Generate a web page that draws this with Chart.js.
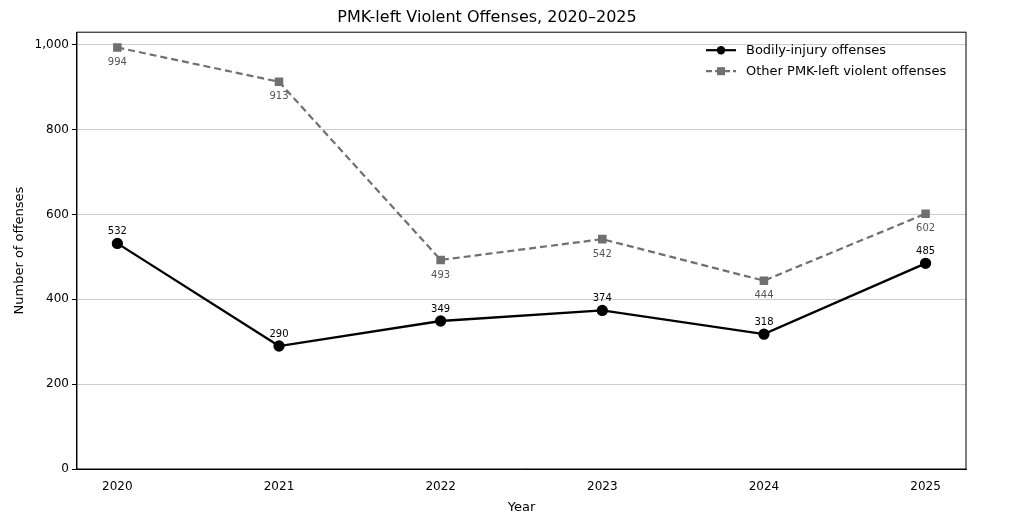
<!DOCTYPE html>
<html><head><meta charset="utf-8">
<script src="https://cdn.jsdelivr.net/npm/chart.js@4"></script>
<style>body{margin:0;background:#fff}#w{width:1020px;height:523px}</style>
</head><body><div id="w"><canvas id="c"></canvas></div>
<script>
const years=[2020,2021,2022,2023,2024,2025];
const bodily=[532,290,349,374,318,485];
const other=[994,913,493,542,444,602];
const yTicks=[0,200,400,600,800,1000];
const F='"DejaVu Sans", sans-serif';
const labels={id:'lab',afterDatasetsDraw(ch){
  const ctx=ch.ctx;ctx.save();ctx.font='10px '+F;ctx.textAlign='center';
  ch.data.datasets.forEach((ds,i)=>{const m=ch.getDatasetMeta(i);
    m.data.forEach((p,j)=>{ctx.fillStyle=i?'#555':'#000';
      if(i){ctx.textBaseline='top';ctx.fillText(ds.data[j].y,p.x,p.y+10);}
      else{ctx.textBaseline='bottom';ctx.fillText(ds.data[j].y,p.x,p.y-7);}});});
  // legend
  const a=ch.chartArea;let x=a.right-260,y=a.top+18;
  ctx.font='13px '+F;ctx.textAlign='left';ctx.textBaseline='middle';
  [['Bodily-injury offenses','#000',[],'circle'],['Other PMK-left violent offenses','#707070',[6,3],'rect']].forEach((L,k)=>{
    const yy=y+k*21;ctx.strokeStyle=L[1];ctx.lineWidth=2.2;ctx.setLineDash(L[2]);
    ctx.beginPath();ctx.moveTo(x,yy);ctx.lineTo(x+30,yy);ctx.stroke();ctx.setLineDash([]);
    ctx.fillStyle=L[1];if(L[3]=='circle'){ctx.beginPath();ctx.arc(x+15,yy,4.2,0,7);ctx.fill();}else ctx.fillRect(x+11,yy-4,8,8);
    ctx.fillStyle='#000';ctx.fillText(L[0],x+40,yy);});
  ctx.restore();}};
new Chart(document.getElementById('c'),{type:'line',
 data:{datasets:[
  {data:years.map((y,i)=>({x:y,y:bodily[i]})),borderColor:'#000',backgroundColor:'#000',borderWidth:2.3,pointRadius:4.5,pointStyle:'circle'},
  {data:years.map((y,i)=>({x:y,y:other[i]})),borderColor:'#707070',backgroundColor:'#707070',borderWidth:2.2,borderDash:[7,4],pointRadius:4.5,pointStyle:'rect'}]},
 options:{responsive:true,maintainAspectRatio:false,animation:false,
  layout:{padding:{left:8,right:54,top:0,bottom:4}},
  plugins:{legend:{display:false},tooltip:{enabled:false},
   title:{display:true,text:'PMK-left Violent Offenses, 2020–2025',color:'#000',font:{family:F,size:16,weight:'normal'},padding:{top:8,bottom:5}}},
  scales:{
   x:{type:'linear',min:2019.75,max:2025.25,afterBuildTicks(s){s.ticks=years.map(v=>({value:v}));},
    ticks:{color:'#000',font:{family:F,size:12},callback:v=>String(v)},
    grid:{display:false},border:{color:'#000',display:true},
    title:{display:true,text:'Year',color:'#000',font:{family:F,size:13},padding:{top:2}}},
   y:{min:0,max:1030,afterBuildTicks(s){s.ticks=yTicks.map(v=>({value:v}));},
    ticks:{color:'#000',font:{family:F,size:12}},
    grid:{color:'#ccc',borderDash:[1,2],drawTicks:true,tickColor:'#000',tickLength:5},border:{color:'#000'},
    title:{display:true,text:'Number of offenses',color:'#000',font:{family:F,size:13}}}}},
 plugins:[labels,{id:'box',afterDraw(ch){const a=ch.chartArea,c=ch.ctx;c.save();c.strokeStyle='#000';c.lineWidth=1;c.strokeRect(a.left,a.top,a.right-a.left,a.bottom-a.top);c.restore();}}]});
</script></body></html>
